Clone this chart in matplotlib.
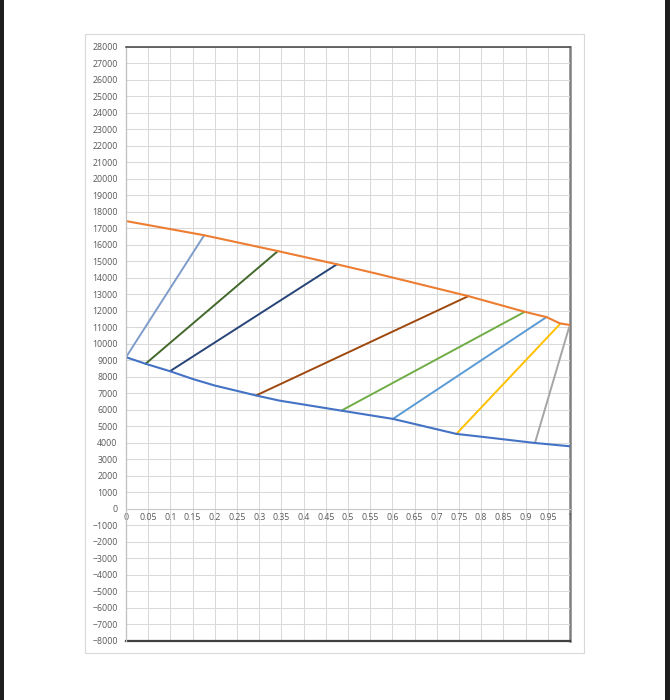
import numpy as np
import matplotlib.pyplot as plt
from matplotlib.patches import Rectangle

# upper (orange) boundary curve
upper_x = [0.0, 0.176, 0.342, 0.475, 0.571, 0.771, 0.898, 0.947, 0.977, 1.0]
upper_y = [17450, 16590, 15630, 14830, 14220, 12900, 11950, 11630, 11250, 11150]

# lower (blue) boundary curve
lower_x = [0.0, 0.044, 0.099, 0.15, 0.2, 0.293, 0.345, 0.485, 0.601, 0.65, 0.744, 0.8, 0.921, 1.0]
lower_y = [9200, 8800, 8350, 7880, 7480, 6880, 6570, 5960, 5460, 5150, 4550, 4380, 4000, 3800]

# tie lines: (x_bottom, y_bottom, x_top, y_top)
tie_x0 = [0.0, 0.044, 0.099, 0.293, 0.485, 0.601, 0.744, 0.921]
tie_y0 = [9200, 8800, 8350, 6880, 5960, 5460, 4550, 4000]
tie_x1 = [0.176, 0.342, 0.475, 0.771, 0.898, 0.947, 0.977, 0.998]
tie_y1 = [16590, 15630, 14830, 12900, 11950, 11630, 11200, 11020]
tie_colors = ["#7F9CCB", "#43682B", "#264478", "#9E480E",
              "#70AD47", "#5B9BD5", "#FFC000", "#A5A5A5"]

x_ticks = [round(i * 0.05, 2) for i in range(21)]
x_labels = ["0" if v == 0 else ("1" if v == 1 else f"{v:g}") for v in x_ticks]
y_ticks = np.arange(-8000, 28001, 1000)

plt.rcParams["font.family"] = ["Open Sans", "DejaVu Sans"]

fig = plt.figure(figsize=(6.7, 7), dpi=100)
fig.patches.append(Rectangle((0.1269, 0.0671), 0.7448, 0.8843, transform=fig.transFigure,
                             fill=False, edgecolor="#d9d9d9", linewidth=0.8))
# dark strips at the image edges
fig.patches.append(Rectangle((0, 0), 0.006, 1, transform=fig.transFigure,
                             facecolor="#1e1e1e", edgecolor="none"))
fig.patches.append(Rectangle((0.993, 0), 0.007, 1, transform=fig.transFigure,
                             facecolor="#1e1e1e", edgecolor="none"))

ax = fig.add_axes([0.1881, 0.0843, 0.6627, 0.8486])
ax.set_xlim(0, 1)
ax.set_ylim(-8000, 28000)

ax.set_xticks(x_ticks)
ax.set_xticklabels(x_labels)
ax.set_yticks(y_ticks)
ax.grid(True, color="#d9d9d9", linewidth=0.75)
ax.set_axisbelow(True)

ax.tick_params(axis="both", length=0, labelsize=6.3, labelcolor="#595959")
ax.tick_params(axis="y", pad=6)
ax.tick_params(axis="x", pad=3)

# x axis drawn at y = 0 as in the spreadsheet chart
ax.spines["bottom"].set_position(("data", 0))
ax.spines["bottom"].set_color("#c8c8c8")
ax.spines["bottom"].set_linewidth(0.75)
ax.spines["left"].set_color("#bfbfbf")
ax.spines["left"].set_linewidth(0.9)
ax.spines["top"].set_color("#404040")
ax.spines["top"].set_linewidth(1.1)
ax.spines["right"].set_color("#7f7f7f")
ax.spines["right"].set_linewidth(1.8)
ax.spines["right"].set_zorder(0.2)
ax.axhline(-8000, color="#404040", linewidth=1.6, clip_on=False)

for x0, y0, x1, y1, c in zip(tie_x0, tie_y0, tie_x1, tie_y1, tie_colors):
    ax.plot([x0, x1], [y0, y1], color=c, linewidth=1.4, solid_capstyle="round")

ax.plot(upper_x, upper_y, color="#ED7D31", linewidth=1.5)
ax.plot(lower_x, lower_y, color="#4472C4", linewidth=1.5)

fig.savefig("out.png", dpi=100)
